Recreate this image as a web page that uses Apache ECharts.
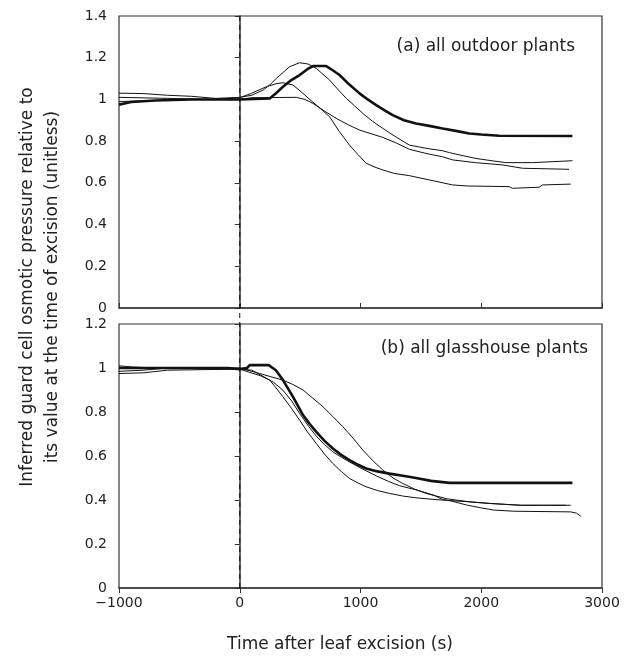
<!DOCTYPE html>
<html>
<head>
<meta charset="utf-8">
<script src="https://cdn.jsdelivr.net/npm/echarts@6/dist/echarts.min.js"></script>
<style>
  html, body { margin: 0; padding: 0; background: #fff; }
  #chart { width: 631px; height: 661px; }
</style>
</head>
<body>
<div id="chart"></div>
<script>
// time after excision (s), value relative to excision
const xTicks = [-1000, 0, 1000, 2000, 3000];

// (a) outdoor plants
const outdoorThick = [[-1000,0.975],[-900,0.988],[-700,0.995],[-400,1.0],[0,1.0],[248,1.005],[300,1.03],[358,1.061],[420,1.09],[496,1.117],[560,1.145],[606,1.16],[716,1.16],[770,1.14],[826,1.117],[910,1.07],[992,1.029],[1060,1.0],[1130,0.973],[1200,0.948],[1267,0.925],[1360,0.9],[1460,0.885],[1580,0.872],[1680,0.861],[1800,0.848],[1901,0.837],[2000,0.832],[2149,0.826],[2755,0.825]];
const outdoorA = [[-1000,1.03],[-800,1.028],[-600,1.02],[-400,1.015],[-200,1.005],[0,1.01],[100,1.02],[193,1.045],[250,1.07],[303,1.101],[360,1.13],[413,1.157],[496,1.176],[565,1.17],[634,1.149],[690,1.12],[744,1.093],[810,1.05],[882,1.005],[950,0.97],[1019,0.933],[1100,0.895],[1185,0.861],[1280,0.825],[1405,0.781],[1550,0.765],[1680,0.754],[1736,0.745],[1850,0.73],[1956,0.717],[2100,0.705],[2204,0.697],[2424,0.697],[2430,0.706],[2755,0.706]];
const outdoorB = [[-1000,1.01],[-600,1.005],[-200,1.0],[0,1.008],[100,1.03],[220,1.061],[300,1.075],[358,1.08],[441,1.069],[524,1.029],[580,1.0],[634,0.973],[690,0.945],[744,0.917],[826,0.845],[909,0.781],[980,0.735],[1047,0.694],[1120,0.675],[1185,0.662],[1280,0.645],[1400,0.635],[1570,0.614],[1763,0.59],[1887,0.585],[2231,0.582],[2259,0.574],[2479,0.579],[2507,0.59],[2741,0.594]];
const outdoorC = [[-1000,0.99],[-700,0.995],[-400,1.0],[0,1.0],[100,1.008],[470,1.01],[540,1.0],[606,0.981],[700,0.945],[799,0.909],[900,0.878],[992,0.853],[1090,0.835],[1185,0.818],[1300,0.79],[1405,0.761],[1550,0.74],[1680,0.725],[1763,0.71],[1950,0.697],[2176,0.686],[2341,0.67],[2727,0.665]];

// (b) glasshouse plants
const glassThick = [[-1000,1.0],[-500,1.0],[-100,1.0],[0,0.995],[60,1.0],[83,1.013],[240,1.013],[299,0.99],[358,0.945],[441,0.869],[524,0.786],[580,0.745],[634,0.71],[700,0.67],[771,0.634],[840,0.605],[909,0.581],[980,0.56],[1047,0.543],[1140,0.53],[1240,0.52],[1350,0.51],[1460,0.5],[1584,0.487],[1736,0.478],[2755,0.478]];
const glassSlow = [[-1000,0.985],[-800,0.99],[-600,1.0],[0,1.0],[100,0.985],[165,0.975],[260,0.96],[358,0.945],[440,0.925],[524,0.9],[600,0.865],[689,0.824],[770,0.78],[854,0.733],[940,0.68],[1019,0.627],[1100,0.58],[1185,0.536],[1270,0.5],[1350,0.475],[1446,0.45],[1543,0.43],[1612,0.42],[1722,0.405],[1915,0.391],[2080,0.384],[2328,0.376],[2741,0.376]];
const glassLow = [[-1000,0.975],[-800,0.978],[-600,0.99],[0,0.995],[83,0.98],[170,0.965],[248,0.945],[300,0.91],[358,0.869],[430,0.815],[496,0.763],[560,0.71],[634,0.657],[700,0.61],[771,0.566],[840,0.53],[909,0.498],[980,0.477],[1047,0.46],[1140,0.443],[1240,0.43],[1350,0.418],[1460,0.41],[1600,0.403],[1722,0.398],[1915,0.391],[2080,0.384],[2328,0.376],[2700,0.376]];
const glassMid = [[-1000,1.01],[-900,1.005],[-700,1.0],[0,0.995],[100,0.99],[200,0.96],[280,0.935],[358,0.899],[430,0.85],[500,0.79],[570,0.735],[634,0.69],[700,0.653],[771,0.619],[840,0.595],[909,0.573],[1020,0.54],[1130,0.51],[1230,0.485],[1322,0.465],[1446,0.448],[1530,0.435],[1612,0.421],[1667,0.405],[1754,0.395],[1887,0.376],[2000,0.364],[2107,0.354],[2273,0.349],[2741,0.346],[2790,0.34],[2824,0.326]];

// excision time marker (spans both panels)
const excisionLine = [[0, 0], [0, 1]];

const FONT = "DejaVu Sans";
const AXIS = "#333";

const chart = echarts.init(document.getElementById("chart"), null, { renderer: "canvas" });

function xAxisOf(gridIndex, showLabels, ticksInside) {
  return {
    type: "value",
    gridIndex: gridIndex,
    min: -1000,
    max: 3000,
    interval: 1000,
    axisLine: { show: true, onZero: false, lineStyle: { color: AXIS, width: 1.5 } },
    axisTick: { show: true, inside: ticksInside, length: 5, lineStyle: { color: AXIS, width: 1 } },
    axisLabel: {
      show: showLabels,
      margin: 8,
      color: "#222",
      fontFamily: FONT,
      fontSize: 14,
      formatter: function (v) {
        return v < 0 ? "\u2212" + Math.abs(v) : String(v);
      },
    },
    splitLine: { show: false },
  };
}

function yAxisOf(gridIndex, max) {
  return {
    type: "value",
    gridIndex: gridIndex,
    min: 0,
    max: max,
    interval: 0.2,
    axisLine: { show: true, lineStyle: { color: AXIS, width: 1.5 } },
    axisTick: { show: true, length: 5, lineStyle: { color: AXIS, width: 1 } },
    axisLabel: {
      margin: 12,
      color: "#222",
      fontFamily: FONT,
      fontSize: 14,
      formatter: function (v) {
        return String(+v.toFixed(1));
      },
    },
    splitLine: { show: false },
  };
}

function curve(data, gridIndex, thick) {
  return {
    type: "line",
    data: data,
    xAxisIndex: gridIndex,
    yAxisIndex: gridIndex,
    symbol: "none",
    showSymbol: false,
    smooth: false,
    silent: true,
    z: thick ? 4 : 3,
    lineStyle: { color: "#111", width: thick ? 2.6 : 1 },
  };
}

const option = {
  animation: false,
  backgroundColor: "#fff",
  grid: [
    { left: 119, right: 29, top: 16, height: 292, show: true, borderColor: AXIS, borderWidth: 1.2, outerBoundsMode: "none" },
    { left: 119, right: 29, top: 324, height: 264, show: true, borderColor: AXIS, borderWidth: 1.2, outerBoundsMode: "none" },
    { left: 119, right: 29, top: 16, height: 572, show: false, outerBoundsMode: "none" },
  ],
  xAxis: [
    xAxisOf(0, false, true),
    xAxisOf(1, true, false),
    { type: "value", gridIndex: 2, min: -1000, max: 3000, show: false },
  ],
  yAxis: [
    yAxisOf(0, 1.4),
    yAxisOf(1, 1.2),
    { type: "value", gridIndex: 2, min: 0, max: 1, show: false },
  ],
  series: [
    {
      type: "line",
      data: excisionLine,
      xAxisIndex: 2,
      yAxisIndex: 2,
      symbol: "none",
      silent: true,
      z: 2,
      lineStyle: { color: "#111", width: 1, type: [5, 4] },
    },
    curve(outdoorA, 0, false),
    curve(outdoorB, 0, false),
    curve(outdoorC, 0, false),
    curve(outdoorThick, 0, true),
    curve(glassSlow, 1, false),
    curve(glassLow, 1, false),
    curve(glassMid, 1, false),
    curve(glassThick, 1, true),
  ],
  graphic: [
    {
      type: "text",
      x: 575,
      y: 47,
      style: { text: "(a) all outdoor plants", align: "right", verticalAlign: "middle", fontFamily: FONT, fontSize: 17, fill: "#222" },
    },
    {
      type: "text",
      x: 588,
      y: 349,
      style: { text: "(b) all glasshouse plants", align: "right", verticalAlign: "middle", fontFamily: FONT, fontSize: 17, fill: "#222" },
    },
    {
      type: "text",
      x: 340,
      y: 645,
      style: { text: "Time after leaf excision (s)", align: "center", verticalAlign: "middle", fontFamily: FONT, fontSize: 17, fill: "#222" },
    },
    {
      type: "text",
      x: 40,
      y: 287,
      rotation: Math.PI / 2,
      style: {
        text: "Inferred guard cell osmotic pressure relative to\nits value at the time of excision (unitless)",
        align: "center",
        verticalAlign: "middle",
        fontFamily: FONT,
        fontSize: 17,
        lineHeight: 25,
        fill: "#222",
      },
    },
  ],
};

chart.setOption(option);
</script>
</body>
</html>
